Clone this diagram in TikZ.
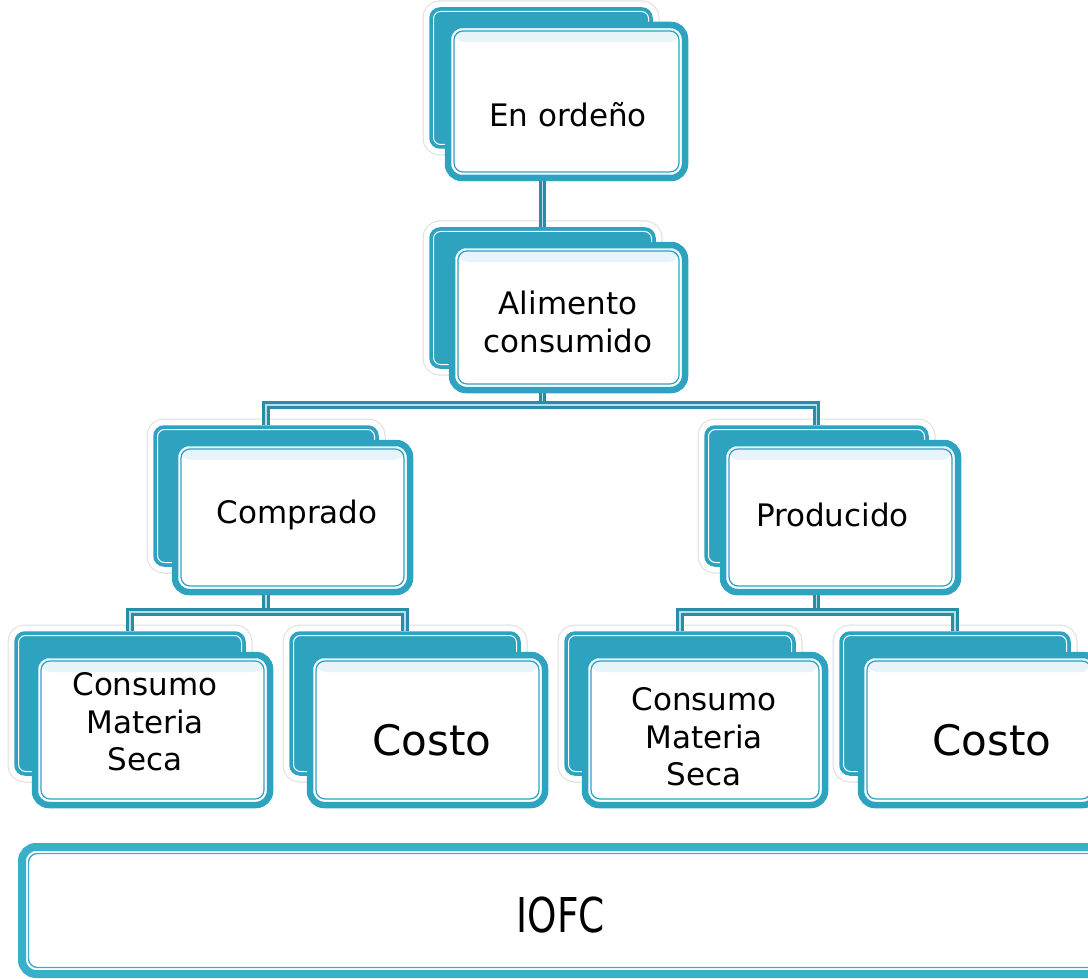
\documentclass[tikz,border=0pt]{standalone}
\usepackage{fontspec}
\setmainfont{DejaVu Sans}
\definecolor{teal1}{RGB}{46,163,192}
\definecolor{teal2}{RGB}{56,176,204}
\definecolor{tealC}{RGB}{40,142,168}
\definecolor{halo}{RGB}{220,220,220}
\definecolor{lblue}{RGB}{232,244,250}
\tikzset{
  backbox/.style={rectangle, rounded corners=10pt, fill=teal1, draw=teal1, line width=1.5pt,
    inner sep=0pt,
    preaction={draw=halo, line width=15pt},
    preaction={draw=white, line width=13pt},
    path picture={\draw[white, line width=1pt, rounded corners=7pt]
      ([shift={(3.5pt,-3.5pt)}]path picture bounding box.north west) rectangle
      ([shift={(-3.5pt,3.5pt)}]path picture bounding box.south east);}},
  frontbox/.style={rectangle, rounded corners=14pt, fill=white, draw=teal1, line width=6.5pt,
    inner sep=0pt,
    path picture={
      \fill[lblue] ([shift={(3pt,-3pt)}]path picture bounding box.north west) rectangle
        ([shift={(-3pt,-17pt)}]path picture bounding box.north east);
      \draw[teal1, line width=1.2pt, rounded corners=9pt]
      ([shift={(6pt,-6pt)}]path picture bounding box.north west) rectangle
      ([shift={(-6pt,6pt)}]path picture bounding box.south east);}},
  bigbox/.style={rectangle, rounded corners=14pt, fill=white, draw=teal2, line width=8pt,
    inner sep=0pt,
    path picture={\draw[teal2, line width=1.4pt, rounded corners=9pt]
      ([shift={(6.5pt,-6.5pt)}]path picture bounding box.north west) rectangle
      ([shift={(-6.5pt,6.5pt)}]path picture bounding box.south east);}},
  conn/.style={draw=tealC, line width=3pt, double=teal1!35!white, double distance=1.5pt},
  txt/.style={align=center, inner sep=0pt, font=\fontsize{31}{37.5}\selectfont},
  costo/.style={inner sep=0pt, font=\fontsize{42}{50}\selectfont}
}
\begin{document}
\begin{tikzpicture}[x=1pt,y=-1pt]
\useasboundingbox (0,0) rectangle (1088,979);
\clip (0,0) rectangle (1088,979);
% level 1
\node[backbox, minimum width=222pt, minimum height=140pt] (topB) at (541,78) {};
\node[frontbox, minimum width=237pt, minimum height=153pt] (topF) at (566.5,101.5) {};
\node[txt] (topT) at (568,115) {En ordeño};
% level 2
\node[backbox, minimum width=225pt, minimum height=140pt] (aliB) at (542.5,298) {};
\node[frontbox, minimum width=233pt, minimum height=145pt] (aliF) at (568.5,317.5) {};
\node[txt] (aliT) at (568,322) {Alimento\\consumido};
% level 3
\node[backbox, minimum width=224pt, minimum height=140pt] (compB) at (266,496) {};
\node[frontbox, minimum width=235pt, minimum height=149pt] (compF) at (292.5,517.5) {};
\node[txt] (compT) at (297,515) {Comprado};
\node[backbox, minimum width=223pt, minimum height=140pt] (prodB) at (816.5,496) {};
\node[frontbox, minimum width=235pt, minimum height=149pt] (prodF) at (840.5,517.5) {};
\node[txt] (prodT) at (832.5,515) {Producido};
% level 4
\node[backbox, minimum width=230pt, minimum height=143pt] (cmLB) at (130,703.5) {};
\node[frontbox, minimum width=235pt, minimum height=150pt] (cmLF) at (152.5,730) {};
\node[txt] (cmLT) at (145,722) {Consumo\\Materia\\Seca};
\node[backbox, minimum width=230pt, minimum height=143pt] (csLB) at (405,703.5) {};
\node[frontbox, minimum width=235pt, minimum height=150pt] (csLF) at (427.5,730) {};
\node[costo] (csLT) at (432,740) {Costo};
\node[backbox, minimum width=230pt, minimum height=143pt] (cmRB) at (680,703.5) {};
\node[frontbox, minimum width=240pt, minimum height=150pt] (cmRF) at (705,730) {};
\node[txt] (cmRT) at (704,737) {Consumo\\Materia\\Seca};
\node[backbox, minimum width=230pt, minimum height=143pt] (csRB) at (955,703.5) {};
\node[frontbox, minimum width=236pt, minimum height=150pt] (csRF) at (979,730) {};
\node[costo] (csRT) at (992,740) {Costo};
% IOFC
\node[bigbox, minimum width=1085pt, minimum height=127pt] (iofc) at (564.5,910.5) {};
\node[inner sep=0pt, font=\fontsize{48}{56}\selectfont] (iofcT) at (561,915) {\scalebox{0.78}[1]{IOFC}};
% connectors
\coordinate (j1) at (542.5,405);
\coordinate (j2) at (266,612);
\coordinate (j3) at (816.5,612);
\draw[conn] (aliB.north |- topF.south) -- (aliB.north);
\draw[conn] (aliF.south -| aliB) -- (j1);
\draw[conn] (j1) -| (compB.north);
\draw[conn] (j1) -| (prodB.north);
\draw[conn] (compF.south -| compB) -- (j2);
\draw[conn] (j2) -| (cmLB.north);
\draw[conn] (j2) -| (csLB.north);
\draw[conn] (prodF.south -| prodB) -- (j3);
\draw[conn] (j3) -| (cmRB.north);
\draw[conn] (j3) -| (csRB.north);
\end{tikzpicture}
\end{document}
